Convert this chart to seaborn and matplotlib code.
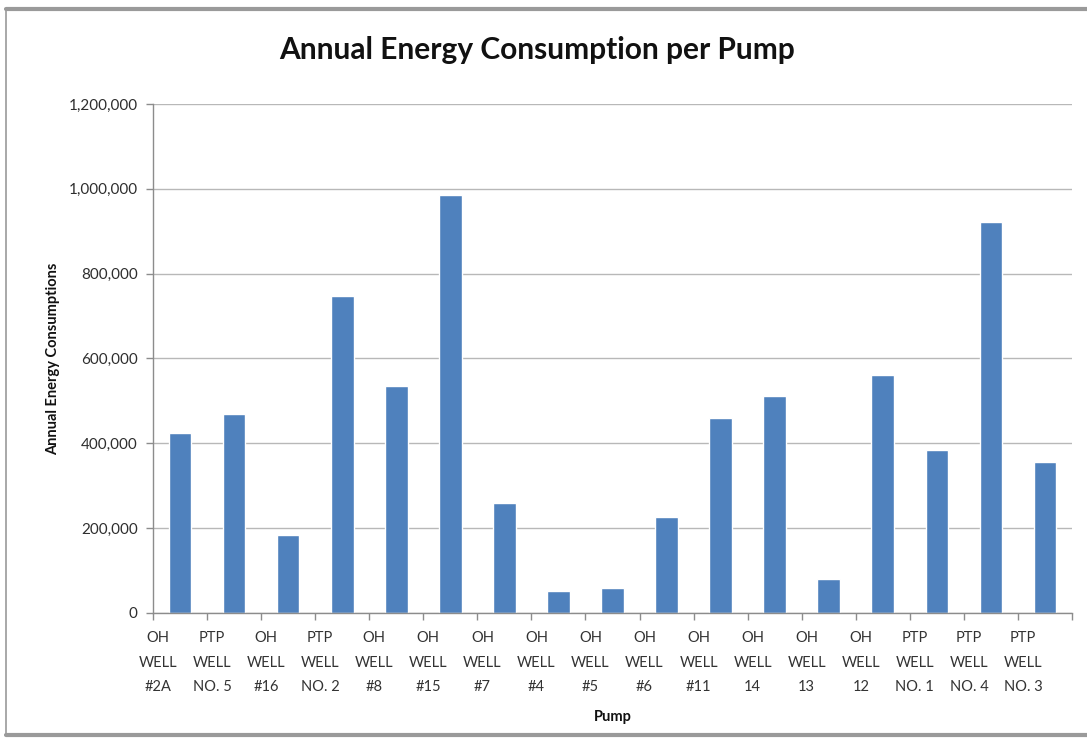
import matplotlib
matplotlib.use("Agg")
import matplotlib.pyplot as plt
import matplotlib.transforms as mtransforms
from matplotlib.lines import Line2D
from matplotlib.ticker import FuncFormatter, FixedLocator
import seaborn as sns

# ==========================================
# DATA
# ==========================================
pumps = [
    "OH\nWELL\n#2A", "PTP\nWELL\nNO. 5", "OH\nWELL\n#16", "PTP\nWELL\nNO. 2",
    "OH\nWELL\n#8", "OH\nWELL\n#15", "OH\nWELL\n#7", "OH\nWELL\n#4",
    "OH\nWELL\n#5", "OH\nWELL\n#6", "OH\nWELL\n#11", "OH\nWELL\n14",
    "OH\nWELL\n13", "OH\nWELL\n12", "PTP\nWELL\nNO. 1", "PTP\nWELL\nNO. 4",
    "PTP\nWELL\nNO. 3",
]
energy = [
    425000, 468000, 185000, 748000, 534000, 985000, 259000, 52000,
    58000, 227000, 459000, 512000, 81000, 562000, 384000, 922000, 357000,
]
y_ticks = [0, 200000, 400000, 600000, 800000, 1000000, 1200000]

# ==========================================
# STYLE
# ==========================================
sns.set_style("whitegrid")
plt.rcParams["font.family"] = ["Lato", "DejaVu Sans"]

fig = plt.figure(figsize=(10.87, 7.43), dpi=100)
ax = fig.add_axes([153 / 1087, 1 - 613 / 743, 919 / 1087, 509 / 743])

sns.barplot(x=pumps, y=energy, color="#4F81BD", saturation=1, width=0.42, ax=ax)

ax.set_ylim(0, 1200000)
ax.set_xlim(-0.5, len(pumps) - 0.5)
ax.yaxis.set_major_locator(FixedLocator(y_ticks))
ax.yaxis.set_major_formatter(FuncFormatter(lambda v, p: f"{int(v):,}"))

# grid + spines like the Excel look
ax.grid(axis="y", color="#b8b8b8", linewidth=1)
ax.grid(axis="x", visible=False)
for side in ["top", "right"]:
    ax.spines[side].set_visible(False)
for side in ["left", "bottom"]:
    ax.spines[side].set_color("#8c8c8c")
    ax.spines[side].set_linewidth(1)

ax.tick_params(axis="y", which="major", length=5, width=1, color="#8c8c8c",
               direction="out", labelsize=11, labelcolor="#2e2e2e", pad=6, left=True)

# category boundary tick marks, labels at centres
ax.set_xticks([i - 0.5 for i in range(len(pumps) + 1)], minor=True)
ax.tick_params(axis="x", which="minor", length=5, width=1, color="#8c8c8c",
               direction="out", bottom=True)
ax.tick_params(axis="x", which="major", length=0, labelsize=10.5,
               labelcolor="#333333", pad=13)
shift = mtransforms.ScaledTranslation(-22 / 100, 0, fig.dpi_scale_trans)
for lbl in ax.get_xticklabels():
    lbl.set_linespacing(1.95)
    lbl.set_transform(lbl.get_transform() + shift)

ax.set_xlabel("Pump", fontsize=10.5, fontweight="bold", color="#111111")
ax.xaxis.set_label_coords(0.5, -0.19)
ax.xaxis.label.set_va("top")
ax.set_ylabel("Annual Energy Consumptions", fontsize=10.5, fontweight="bold", color="#111111")
ax.yaxis.set_label_coords(-0.101, 0.5)

fig.text(0.494, 0.933, "Annual Energy Consumption per Pump", ha="center", va="center",
         fontsize=21.5, fontweight="bold", color="#111111")

# grey frame (top, bottom, left) around the chart area
frame = dict(transform=fig.transFigure, color="#9a9a9a", zorder=0)
fig.lines.append(Line2D([6 / 1087, 1], [1 - 9 / 743] * 2, linewidth=3, **frame))
fig.lines.append(Line2D([6 / 1087, 1], [1 - 735 / 743] * 2, linewidth=3, **frame))
fig.lines.append(Line2D([6 / 1087] * 2, [1 - 9 / 743, 1 - 735 / 743], linewidth=1.2, **frame))

fig.savefig("out.png", dpi=100)
